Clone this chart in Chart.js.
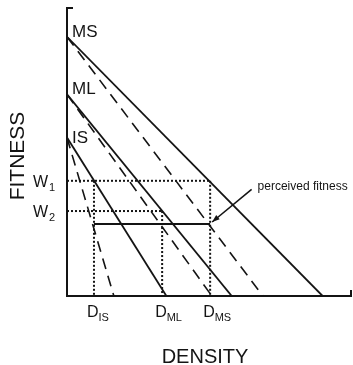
<!DOCTYPE html>
<html>
<head>
<meta charset="utf-8">
<script src="https://cdn.jsdelivr.net/npm/chart.js@4"></script>
<style>
  html, body { margin: 0; padding: 0; background: #fff; }
  #wrap { width: 353px; height: 365px; }
</style>
</head>
<body>
<div id="wrap"><canvas id="c" width="353" height="365"></canvas></div>
<script>
// Fitness–density lines for three habitat types
const species = ['IS', 'ML', 'MS'];
const fitnessAtZeroDensity = [55, 70, 90];      // shared start of actual and perceived lines
const actualZeroDensity = [35, 58, 90];         // solid lines: actual fitness
const perceivedZeroDensity = [16.5, 51, 69];    // dashed lines: perceived fitness

// Reference levels on the axes
const fitnessLevels = [40, 29.5];
const fitnessTickLabels = [['W', '1'], ['W', '2']];
const densityLevels = [9.5, 33.5, 50.4];
const densityTickLabels = [['D', 'IS'], ['D', 'ML'], ['D', 'MS']];
const densityLevelFitness = [0, 1, 0];          // which W level each D is read from
const perceivedFitness = 25;
const arrowTail = [65, 37];

const axisMax = { x: 100, y: 100 };
const INK = '#141414';
const FONT = '"Liberation Sans", Arial, sans-serif';
const DOTS = [2, 2];

const datasets = [];
species.forEach((s, i) => {
  datasets.push({
    label: s + ' actual',
    data: [{ x: 0, y: fitnessAtZeroDensity[i] }, { x: actualZeroDensity[i], y: 0 }],
    borderColor: INK, borderWidth: 1.8
  });
  datasets.push({
    label: s + ' perceived',
    data: [{ x: 0, y: fitnessAtZeroDensity[i] }, { x: perceivedZeroDensity[i], y: 0 }],
    borderColor: INK, borderWidth: 1.6, borderDash: [11, 7]
  });
});

// dotted guides: W levels across to each D, then down to the axis
fitnessLevels.forEach((w, k) => {
  const reach = Math.max(...densityLevels.filter((d, j) => densityLevelFitness[j] === k));
  datasets.push({
    label: 'W' + (k + 1),
    data: [{ x: 0, y: w }, { x: reach, y: w }],
    borderColor: INK, borderWidth: 2, borderDash: DOTS
  });
});
densityLevels.forEach((d, j) => {
  datasets.push({
    label: densityTickLabels[j].join(''),
    data: [{ x: d, y: fitnessLevels[densityLevelFitness[j]] }, { x: d, y: 0 }],
    borderColor: INK, borderWidth: 2, borderDash: DOTS
  });
});

// equal perceived fitness across habitats
datasets.push({
  label: 'perceived fitness',
  data: [{ x: densityLevels[0], y: perceivedFitness }, { x: densityLevels[2], y: perceivedFitness }],
  borderColor: INK, borderWidth: 1.8
});

const decorations = {
  id: 'decorations',
  afterDraw(chart) {
    const { ctx, scales: { x, y } } = chart;
    ctx.save();
    ctx.fillStyle = INK;
    ctx.strokeStyle = INK;

    // axis end marks
    ctx.lineWidth = 2;
    ctx.beginPath();
    ctx.moveTo(x.getPixelForValue(0), y.getPixelForValue(axisMax.y));
    ctx.lineTo(x.getPixelForValue(0) + 6, y.getPixelForValue(axisMax.y));
    ctx.moveTo(x.getPixelForValue(axisMax.x), y.getPixelForValue(0));
    ctx.lineTo(x.getPixelForValue(axisMax.x), y.getPixelForValue(0) - 6);
    ctx.stroke();

    // line names
    ctx.font = '17px ' + FONT;
    ctx.textAlign = 'left';
    ctx.textBaseline = 'alphabetic';
    const nameDrop = [5, 0, 0];
    species.forEach((s, i) => {
      ctx.fillText(s, x.getPixelForValue(0) + 5, y.getPixelForValue(fitnessAtZeroDensity[i]) + nameDrop[i]);
    });

    // W labels
    fitnessLevels.forEach((w, k) => {
      const py = y.getPixelForValue(w);
      const [base, sub] = fitnessTickLabels[k];
      ctx.font = '16px ' + FONT;
      ctx.fillText(base, 33, py + 6);
      const bw = ctx.measureText(base).width;
      ctx.font = '11px ' + FONT;
      ctx.fillText(sub, 33 + bw + 1, py + 10);
    });

    // D labels
    densityLevels.forEach((d, j) => {
      const px = x.getPixelForValue(d) - 7;
      const [base, sub] = densityTickLabels[j];
      ctx.font = '16px ' + FONT;
      ctx.fillText(base, px, 317);
      const bw = ctx.measureText(base).width;
      ctx.font = '11px ' + FONT;
      ctx.fillText(sub, px + bw, 321);
    });

    // axis titles
    ctx.font = '20px ' + FONT;
    ctx.textAlign = 'center';
    ctx.fillText('DENSITY', 205, 363);
    ctx.save();
    ctx.translate(24, 156);
    ctx.rotate(-Math.PI / 2);
    ctx.font = '21px ' + FONT;
    ctx.fillText('FITNESS', 0, 0);
    ctx.restore();

    // arrow to the perceived fitness level
    const tx = x.getPixelForValue(arrowTail[0]), ty = y.getPixelForValue(arrowTail[1]);
    const hx = x.getPixelForValue(densityLevels[2]) + 2, hy = y.getPixelForValue(perceivedFitness) - 2;
    ctx.lineWidth = 1.6;
    ctx.beginPath();
    ctx.moveTo(tx, ty);
    ctx.lineTo(hx, hy);
    ctx.stroke();
    const ang = Math.atan2(hy - ty, hx - tx);
    ctx.beginPath();
    ctx.moveTo(hx, hy);
    ctx.lineTo(hx - 8 * Math.cos(ang - 0.35), hy - 8 * Math.sin(ang - 0.35));
    ctx.lineTo(hx - 8 * Math.cos(ang + 0.35), hy - 8 * Math.sin(ang + 0.35));
    ctx.closePath();
    ctx.fill();
    ctx.font = '12px ' + FONT;
    ctx.textAlign = 'left';
    ctx.textBaseline = 'middle';
    ctx.fillText('perceived fitness', tx + 6, ty - 3);
    ctx.restore();
  }
};

new Chart(document.getElementById('c'), {
  type: 'scatter',
  data: { datasets },
  options: {
    responsive: false,
    animation: false,
    showLine: true,
    elements: { point: { radius: 0 }, line: { tension: 0 } },
    layout: { padding: { left: 67, top: 8, right: 2, bottom: 69 } },
    plugins: { legend: { display: false }, tooltip: { enabled: false } },
    scales: {
      x: {
        type: 'linear', min: 0, max: axisMax.x,
        grid: { display: false, drawTicks: false, tickLength: 0 },
        ticks: { display: false },
        border: { display: true, color: INK, width: 2 },
        afterFit: (s) => { s.height = 0; }
      },
      y: {
        type: 'linear', min: 0, max: axisMax.y,
        grid: { display: false, drawTicks: false, tickLength: 0 },
        ticks: { display: false },
        border: { display: true, color: INK, width: 2 },
        afterFit: (s) => { s.width = 0; }
      }
    }
  },
  plugins: [decorations]
});
</script>
</body>
</html>
